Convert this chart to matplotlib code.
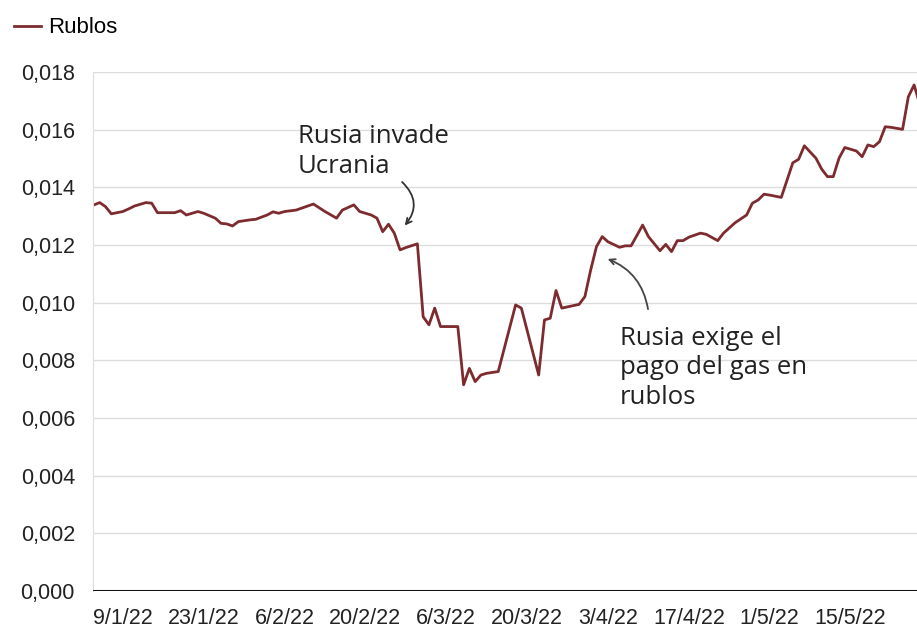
import matplotlib
matplotlib.use("Agg")
import matplotlib.pyplot as plt
import numpy as np
import pandas as pd

# valor del rublo (en dólares)
fechas = ["2022-01-04", "2022-01-05", "2022-01-06", "2022-01-07", "2022-01-09",
          "2022-01-10", "2022-01-11", "2022-01-13", "2022-01-14", "2022-01-15",
          "2022-01-17", "2022-01-18", "2022-01-19", "2022-01-20", "2022-01-22",
          "2022-01-23", "2022-01-25", "2022-01-26", "2022-01-27", "2022-01-28",
          "2022-01-29", "2022-01-31", "2022-02-01", "2022-02-03", "2022-02-04",
          "2022-02-05", "2022-02-06", "2022-02-08", "2022-02-10", "2022-02-11",
          "2022-02-13", "2022-02-15", "2022-02-16", "2022-02-18", "2022-02-19",
          "2022-02-21", "2022-02-22", "2022-02-23", "2022-02-24", "2022-02-25",
          "2022-02-26", "2022-02-27", "2022-03-01", "2022-03-02", "2022-03-03",
          "2022-03-04", "2022-03-05", "2022-03-08", "2022-03-09", "2022-03-10",
          "2022-03-11", "2022-03-12", "2022-03-13", "2022-03-15", "2022-03-18",
          "2022-03-19", "2022-03-22", "2022-03-23", "2022-03-24", "2022-03-25",
          "2022-03-26", "2022-03-29", "2022-03-30", "2022-03-31", "2022-04-01",
          "2022-04-02", "2022-04-03", "2022-04-05", "2022-04-06", "2022-04-07",
          "2022-04-09", "2022-04-10", "2022-04-12", "2022-04-13", "2022-04-14",
          "2022-04-15", "2022-04-16", "2022-04-17", "2022-04-19", "2022-04-20",
          "2022-04-22", "2022-04-23", "2022-04-25", "2022-04-27", "2022-04-28",
          "2022-04-29", "2022-04-30", "2022-05-01", "2022-05-03", "2022-05-05",
          "2022-05-06", "2022-05-07", "2022-05-09", "2022-05-10", "2022-05-11",
          "2022-05-12", "2022-05-13", "2022-05-14", "2022-05-16", "2022-05-17",
          "2022-05-18", "2022-05-19", "2022-05-20", "2022-05-21", "2022-05-22",
          "2022-05-24", "2022-05-25", "2022-05-26", "2022-05-27"]
rublos = [0.01339, 0.01347, 0.01333, 0.01308, 0.01316,
          0.01325, 0.01335, 0.01347, 0.01345, 0.01312,
          0.01312, 0.01312, 0.01319, 0.01304, 0.01316,
          0.01310, 0.01293, 0.01275, 0.01273, 0.01266,
          0.01281, 0.01287, 0.01289, 0.01304, 0.01315,
          0.01310, 0.01316, 0.01321, 0.01335, 0.01342,
          0.01316, 0.01293, 0.01321, 0.01339, 0.01316,
          0.01304, 0.01293, 0.01246, 0.01272, 0.01241,
          0.01183, 0.01191, 0.01204, 0.00951, 0.00923,
          0.00981, 0.00917, 0.00917, 0.00715, 0.00772,
          0.00726, 0.00749, 0.00755, 0.00761, 0.00992,
          0.00981, 0.00749, 0.00940, 0.00946, 0.01042,
          0.00981, 0.00994, 0.01021, 0.01113, 0.01194,
          0.01229, 0.01211, 0.01192, 0.01197, 0.01197,
          0.01269, 0.01229, 0.01180, 0.01202, 0.01177,
          0.01215, 0.01215, 0.01227, 0.01241, 0.01237,
          0.01215, 0.01241, 0.01277, 0.01304, 0.01345,
          0.01356, 0.01376, 0.01373, 0.01365, 0.01485,
          0.01497, 0.01544, 0.01501, 0.01463, 0.01437,
          0.01437, 0.01501, 0.01538, 0.01526, 0.01506,
          0.01547, 0.01541, 0.01558, 0.01610, 0.01608,
          0.01601, 0.01714, 0.01755, 0.01686]

yticks = [0.0, 0.002, 0.004, 0.006, 0.008, 0.010, 0.012, 0.014, 0.016, 0.018]
xticks = ["2022-01-09", "2022-01-23", "2022-02-06", "2022-02-20", "2022-03-06",
          "2022-03-20", "2022-04-03", "2022-04-17", "2022-05-01", "2022-05-15"]

fechas = pd.to_datetime(fechas)
xticks = pd.to_datetime(xticks)

color = "#7d2b2f"
plt.rcParams['font.family'] = ['Liberation Sans', 'DejaVu Sans']

fig = plt.figure(figsize=(9.17, 6.33), dpi=100)
ax = fig.add_axes([0.1014, 0.0664, 0.8986, 0.8199])

ax.plot(fechas, rublos, color=color, lw=2, label='Rublos')

ax.set_ylim(0, 0.018)
ax.set_xlim(pd.Timestamp("2022-01-03 20:00"), pd.Timestamp("2022-05-26 12:00"))
ax.set_yticks(yticks)
ax.set_yticklabels([("%.3f" % v).replace(".", ",") for v in yticks])
ax.set_xticks(xticks)
ax.set_xticklabels(["%d/%d/22" % (d.day, d.month) for d in xticks])
ax.tick_params(axis='both', length=0, labelsize=15.5, colors='#222222')
ax.tick_params(axis='y', pad=13)
ax.tick_params(axis='x', pad=12)

ax.grid(axis='y', color='#dddddd', lw=1)
ax.set_axisbelow(True)
for s in ['top', 'right', 'bottom']:
    ax.spines[s].set_visible(False)
ax.spines['left'].set_color('#dddddd')
ax.axhline(0, color='#111111', lw=2.2, zorder=3)

leg = fig.legend(loc='upper left', bbox_to_anchor=(-0.007, 1.004), frameon=False,
                 fontsize=16, handlelength=1.25, handletextpad=0.3)

afont = dict(family=['Open Sans', 'DejaVu Sans'], fontsize=18.5, color='#222222',
             linespacing=1.25)
ax.text(pd.Timestamp("2022-02-08 06:00"), 0.0162, "Rusia invade\nUcrania", va='top', **afont)
ax.annotate("", xy=(pd.Timestamp("2022-02-26 12:00"), 0.0126),
            xytext=(pd.Timestamp("2022-02-26"), 0.01425),
            arrowprops=dict(arrowstyle='->', color='#333333', lw=1.3,
                            connectionstyle='arc3,rad=-0.5'))
ax.text(pd.Timestamp("2022-04-05"), 0.0092, "Rusia exige el\npago del gas en\nrublos",
        va='top', **afont)
ax.annotate("", xy=(pd.Timestamp("2022-04-02 12:00"), 0.01155),
            xytext=(pd.Timestamp("2022-04-10"), 0.00968),
            arrowprops=dict(arrowstyle='->', color='#444444', lw=1.3,
                            connectionstyle='arc3,rad=0.3'))

fig.savefig("out.png", dpi=100)
